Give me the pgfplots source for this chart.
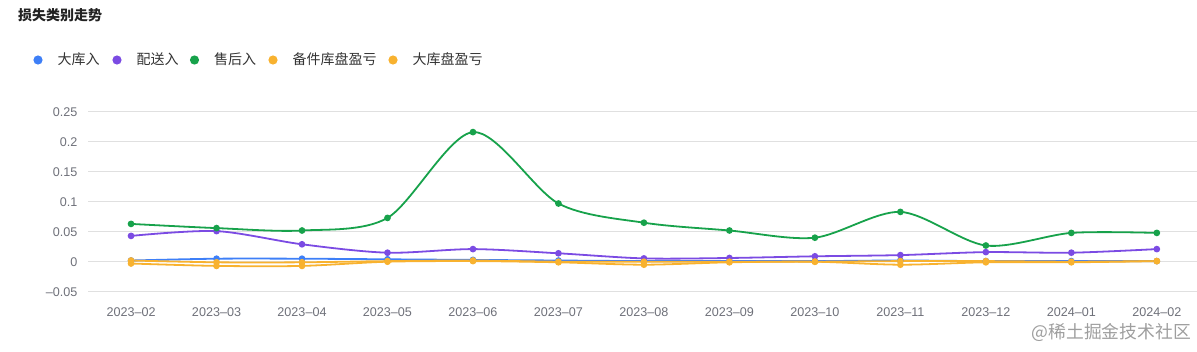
\documentclass[border=0pt]{standalone}
\usepackage{pgfplots}
\pgfplotsset{compat=1.18}
\usepackage{fontspec}
\setmainfont{Liberation Sans}
\newfontfamily\cjk{Noto Sans CJK SC}
\definecolor{cblue}{HTML}{3E7FF7}
\definecolor{cpurple}{HTML}{7B4BE3}
\definecolor{cgreen}{HTML}{17A24B}
\definecolor{corange}{HTML}{F8B22F}
\definecolor{gridgray}{HTML}{E0E0E0}
\definecolor{ticktext}{HTML}{6E7079}
\definecolor{titletext}{HTML}{222222}
\definecolor{legtext}{HTML}{333333}
\definecolor{wmark}{HTML}{9E9E9E}
\begin{document}
\begin{tikzpicture}[x=1pt,y=1pt]
\path[use as bounding box] (0,0) rectangle (1197,-351);
% title
\node[anchor=base west, inner sep=0pt, text=titletext,
      font=\cjk\bfseries\fontsize{14}{14}\selectfont] at (18,-20.7) {损失类别走势};
% legend
\foreach \cx/\col/\lab in {38/cblue/大库入, 117/cpurple/配送入, 194.5/cgreen/售后入, 273/corange/备件库盘盈亏, 393/corange/大库盘盈亏}{
  \fill[\col] (\cx,-60) circle (4.6);
  \node[anchor=base west, inner sep=0pt, text=legtext,
        font=\cjk\fontsize{14}{14}\selectfont] at (\cx+19.5,-64.7) {\lab};
}
% watermark
\node[anchor=base east, inner sep=0pt, text=wmark,
      font=\cjk\fontsize{17.8}{17.8}\selectfont] at (1191,-338) {@稀土掘金技术社区};
\begin{axis}[
  at={(88.3pt,-291.7pt)}, anchor=south west,
  scale only axis, width=1108.7pt, height=180pt,
  xmin=-0.5, xmax=12.47, ymin=-0.05, ymax=0.25,
  axis line style={draw=none},
  major tick length=0pt, tick style={draw=none},
  ymajorgrids, grid style={color=gridgray, line width=1pt},
  xtick={0,...,12},
  xticklabels={2023--02,2023--03,2023--04,2023--05,2023--06,2023--07,2023--08,2023--09,2023--10,2023--11,2023--12,2024--01,2024--02},
  ytick={-0.05,0,0.05,0.1,0.15,0.2,0.25},
  yticklabels={--0.05,0,0.05,0.1,0.15,0.2,0.25},
  ticklabel style={font=\fontsize{12.6}{12.6}\selectfont, text=ticktext, inner sep=0pt},
  xticklabel style={anchor=north, yshift=-15.3pt},
  yticklabel style={anchor=east, xshift=-10.6pt},
  every axis plot/.append style={smooth, line width=1.8pt, mark=*, mark size=2.4pt},
]
\addplot[color=cblue] coordinates {(0,0.002) (1,0.005) (2,0.005) (3,0.004) (4,0.003) (5,0.002) (6,0.001) (7,0.001) (8,0.001) (9,0.002) (10,0.001) (11,0.001) (12,0.001)};
\addplot[color=cpurple] coordinates {(0,0.043) (1,0.051) (2,0.029) (3,0.015) (4,0.021) (5,0.014) (6,0.0055) (7,0.0062) (8,0.009) (9,0.011) (10,0.016) (11,0.015) (12,0.021)};
\addplot[color=cgreen] coordinates {(0,0.063) (1,0.056) (2,0.052) (3,0.073) (4,0.216) (5,0.097) (6,0.065) (7,0.052) (8,0.040) (9,0.083) (10,0.027) (11,0.048) (12,0.048)};
\addplot[color=corange] coordinates {(0,0.002) (1,-0.001) (2,-0.001) (3,0.001) (4,0.002) (5,0) (6,0) (7,0) (8,0) (9,0.001) (10,0.001) (11,0) (12,0.001)};
\addplot[color=corange] coordinates {(0,-0.003) (1,-0.007) (2,-0.007) (3,0) (4,0.001) (5,-0.001) (6,-0.005) (7,-0.001) (8,0) (9,-0.005) (10,-0.001) (11,-0.001) (12,0.001)};
\end{axis}
\end{tikzpicture}
\end{document}
